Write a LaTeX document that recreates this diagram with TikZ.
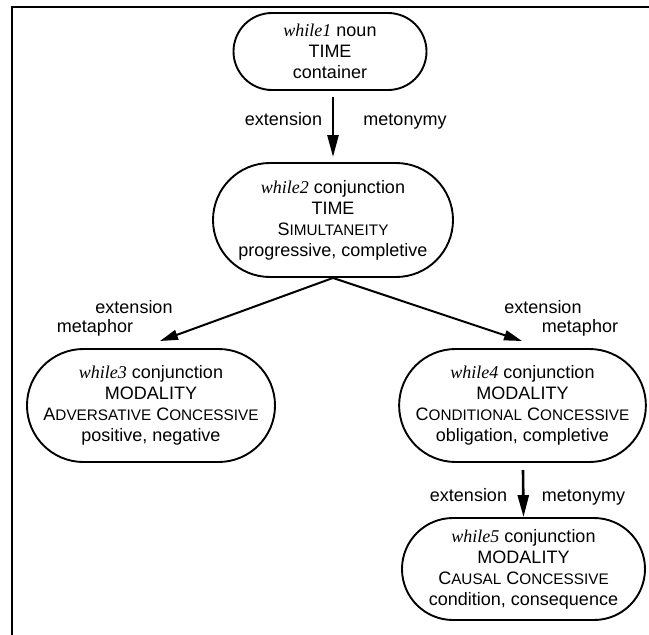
\documentclass[tikz,border=0pt]{standalone}
\usepackage{fontspec}
\setmainfont{Liberation Sans}
\newfontfamily\timesit{Liberation Serif}
\usetikzlibrary{shapes.misc,arrows.meta}
\newcommand{\wh}[1]{{\timesit\itshape #1}}
\newcommand{\mysc}[1]{{\fontsize{15.3}{21}\selectfont #1}}
\begin{document}
\begin{tikzpicture}[x=1pt,y=-1pt,
  sense/.style={rounded rectangle, draw, line width=1.9pt, align=center, inner sep=0pt,
    font=\fontsize{18}{21}\selectfont},
  lbl/.style={font=\fontsize{18}{21}\selectfont, inner sep=0pt, anchor=base},
  vlink/.style={line width=2.6pt, -{Triangle[length=22pt,width=11pt]}},
  dlink/.style={line width=2pt, -{Triangle[length=18pt,width=10pt]}},
  frame/.style={line width=2pt}
]
\useasboundingbox (0,0) rectangle (649,635);
\draw[frame] (12,636) -- (12,7) -- (650,7);

\node[sense, minimum width=193pt, minimum height=77pt] (n1) at (330,51.5)
  {\wh{while1} noun\\TIME\\container};
\node[sense, minimum width=240pt, minimum height=114pt] (n2) at (333,220)
  {\wh{while2} conjunction\\TIME\\S\mysc{IMULTANEITY}\\progressive, completive};
\node[sense, minimum width=242pt, minimum height=113pt] (n3) at (151,405.5)
  {\wh{while3} conjunction\\MODALITY\\A\mysc{DVERSATIVE} C\mysc{ONCESSIVE}\\positive, negative};
\node[sense, minimum width=243pt, minimum height=113pt] (n4) at (522.5,405.5)
  {\wh{while4} conjunction\\MODALITY\\C\mysc{ONDITIONAL} C\mysc{ONCESSIVE}\\obligation, completive};
\node[sense, minimum width=243pt, minimum height=102pt] (n5) at (523.5,569)
  {\wh{while5} conjunction\\MODALITY\\C\mysc{AUSAL} C\mysc{ONCESSIVE}\\condition, consequence};

\coordinate (a1s) at (333,97);
\coordinate (a1e) at (333,157);
\draw[vlink] (a1s) -- (a1e);
\coordinate (a3e) at (160,341);
\coordinate (a4e) at (522,341);
\draw[dlink] (n2.south) -- (a3e);
\draw[dlink] (n2.south) -- (a4e);
\coordinate (a5s) at (523,470);
\draw[vlink] (a5s) -- (n5.north);

\node[lbl] (l1a) at (283.5,125) {extension};
\node[lbl] (l1b) at (405,125) {metonymy};
\node[lbl] (l3a) at (134,313) {extension};
\node[lbl] (l3b) at (95,332) {metaphor};
\node[lbl] (l4a) at (543,313) {extension};
\node[lbl] (l4b) at (580,332) {metaphor};
\node[lbl] (l5a) at (468.5,501) {extension};
\node[lbl] (l5b) at (583.5,501) {metonymy};
\end{tikzpicture}
\end{document}
